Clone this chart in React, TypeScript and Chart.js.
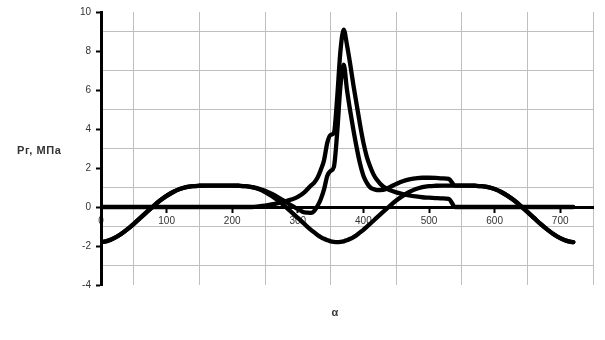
import React, { useEffect, useRef } from 'react';
import { Chart, registerables } from 'chart.js';

Chart.register(...registerables);

// crank angle, degrees
const angles = [
  0, 10, 20, 30, 40, 50, 60, 70, 80, 90, 100, 110, 120, 130, 140, 150, 160, 170, 180, 190, 200, 210, 220, 230,
  240, 250, 260, 270, 280, 290, 300, 310, 320,
  325, 330, 335, 340, 345, 350, 355, 360, 365, 370, 375, 380, 385, 390, 395, 400, 405, 410, 415, 420,
  430, 440, 450, 460, 470, 480, 490, 500, 510, 520, 530, 540,
  550, 560, 570, 580, 590, 600, 610, 620, 630, 640, 650, 660, 670, 680, 690, 700, 710, 720,
];

// gas pressure Pг
const pgValues = [
  0, 0, 0, 0, 0, 0, 0, 0, 0, 0, 0, 0, 0, 0, 0, 0, 0, 0, 0, 0, 0, 0, 0, 0,
  0.03, 0.07, 0.13, 0.2, 0.28, 0.38, 0.52, 0.75, 1.1,
  1.25, 1.5, 1.9, 2.4, 3.3, 3.7, 3.8, 5.6, 8.0, 9.1, 8.3, 7.3, 6.2, 5.2, 4.2, 3.3, 2.6, 2.1, 1.7, 1.42,
  1.05, 0.87, 0.75, 0.66, 0.59, 0.54, 0.5, 0.48, 0.46, 0.44, 0.42, 0,
  0, 0, 0, 0, 0, 0, 0, 0, 0, 0, 0, 0, 0, 0, 0, 0, 0, 0,
];

// inertia force Pj
const pjValues = [
  -1.8, -1.74, -1.6, -1.4, -1.15, -0.86, -0.56, -0.25, 0.05, 0.33, 0.57, 0.77, 0.92, 1.02, 1.07, 1.09, 1.1, 1.1, 1.1, 1.1, 1.1, 1.09, 1.07, 1.02,
  0.92, 0.77, 0.57, 0.33, 0.05, -0.25, -0.56, -0.87, -1.17,
  -1.3, -1.43, -1.54, -1.63, -1.7, -1.76, -1.79, -1.8, -1.79, -1.76, -1.7, -1.63, -1.54, -1.43, -1.3, -1.17, -1.02, -0.87, -0.72, -0.56,
  -0.25, 0.05, 0.33, 0.57, 0.77, 0.92, 1.02, 1.07, 1.09, 1.1, 1.1, 1.1,
  1.1, 1.1, 1.09, 1.07, 1.02, 0.92, 0.77, 0.57, 0.33, 0.05, -0.25, -0.56, -0.87, -1.15, -1.4, -1.6, -1.74, -1.8,
];

// total force P
const pSumValues = [
  -1.8, -1.74, -1.6, -1.4, -1.15, -0.86, -0.56, -0.25, 0.05, 0.33, 0.57, 0.77, 0.92, 1.02, 1.07, 1.09, 1.1, 1.1, 1.1, 1.1, 1.1, 1.09, 1.07, 1.02,
  0.95, 0.83, 0.68, 0.5, 0.3, 0.08, -0.1, -0.28, -0.3,
  -0.2, 0.05, 0.4, 0.9, 1.6, 1.85, 2.05, 3.8, 6.2, 7.3, 6.0, 4.9, 3.9, 3.0, 2.2, 1.6, 1.25, 1.02, 0.92, 0.87,
  0.88, 1.02, 1.18, 1.32, 1.42, 1.47, 1.5, 1.5, 1.49, 1.47, 1.44, 1.1,
  1.1, 1.1, 1.09, 1.07, 1.02, 0.92, 0.77, 0.57, 0.33, 0.05, -0.25, -0.56, -0.87, -1.15, -1.4, -1.6, -1.74, -1.8,
];

const xTickLabels = ['0', '100', '200', '300', '400', '500', '600', '700'];
const yTickLabels = ['-4', '-2', '0', '2', '4', '6', '8', '10'];
const yAxisTitle = 'Рг, МПа';
const xAxisTitle = 'α';

const FONT = '"Liberation Sans", Arial, sans-serif';
const TEXT_COLOR = '#333333';
const GRID_COLOR = '#bfbfbf';
const NONE = 'rgba(0,0,0,0)';

const titlePlugin = {
  id: 'axisTitles',
  afterDraw(chart: any) {
    const ctx = chart.ctx;
    ctx.save();
    ctx.fillStyle = TEXT_COLOR;
    ctx.font = `bold 11px ${FONT}`;
    ctx.textBaseline = 'middle';
    ctx.textAlign = 'left';
    try {
      (ctx as any).letterSpacing = '0.6px';
    } catch (e) {}
    ctx.fillText(yAxisTitle, 17, 151);
    try {
      (ctx as any).letterSpacing = '0px';
    } catch (e) {}
    ctx.textAlign = 'center';
    ctx.fillText(xAxisTitle, 335, 313);
    ctx.restore();
  },
};

function series(values: number[]) {
  return {
    data: angles.map((a, i) => ({ x: a, y: values[i] })),
    borderColor: '#000',
    backgroundColor: '#000',
    borderWidth: 4.3,
    pointRadius: 0,
    fill: false,
    cubicInterpolationMode: 'monotone' as const,
    borderCapStyle: 'round' as const,
    borderJoinStyle: 'round' as const,
  };
}

export default function App() {
  const ref = useRef<HTMLCanvasElement | null>(null);

  useEffect(() => {
    if (!ref.current) return;
    const chart = new Chart(ref.current, {
      type: 'line',
      data: {
        datasets: [series(pjValues), series(pSumValues), series(pgValues)],
      },
      options: {
        animation: false,
        responsive: false,
        maintainAspectRatio: false,
        layout: { padding: { left: 0, top: 12, right: 12, bottom: 55 } },
        plugins: { legend: { display: false }, tooltip: { enabled: false } },
        scales: {
          x: {
            type: 'linear',
            min: 0,
            max: 750,
            position: { y: 0 } as any,
            afterFit: (s: any) => {
              s.height = 0;
            },
            ticks: {
              stepSize: 50,
              autoSkip: false,
              maxRotation: 0,
              padding: 4,
              color: TEXT_COLOR,
              font: { family: FONT, size: 10 },
              callback: (v: any) => (xTickLabels.includes(String(v)) ? String(v) : ''),
            },
            grid: {
              color: (c: any) => (c.tick && c.tick.value % 100 !== 0 ? GRID_COLOR : NONE),
              tickColor: (c: any) => (c.tick && c.tick.value % 100 === 0 && c.tick.value <= 700 ? '#000' : NONE),
              lineWidth: 1,
              tickLength: 4,
              tickWidth: 2,
            },
            border: { display: true, color: '#000', width: 3 },
          },
          y: {
            type: 'linear',
            min: -4,
            max: 10,
            afterFit: (s: any) => {
              s.width = 101;
            },
            ticks: {
              stepSize: 1,
              autoSkip: false,
              padding: 5,
              color: TEXT_COLOR,
              font: { family: FONT, size: 10 },
              callback: (v: any) => (yTickLabels.includes(String(v)) ? String(v) : ''),
            },
            grid: {
              color: (c: any) => (c.tick && Math.abs(c.tick.value % 2) === 1 ? GRID_COLOR : NONE),
              tickColor: (c: any) => (c.tick && c.tick.value % 2 === 0 ? '#000' : NONE),
              lineWidth: 1,
              tickLength: 5,
              tickWidth: 2,
            },
            border: { display: true, color: '#000', width: 3 },
          },
        },
      },
      plugins: [titlePlugin],
    });
    return () => chart.destroy();
  }, []);

  return (
    <div style={{ position: 'absolute', left: 0, top: 0, width: 605, height: 340, background: '#fff' }}>
      <canvas ref={ref} width={605} height={340} />
    </div>
  );
}
